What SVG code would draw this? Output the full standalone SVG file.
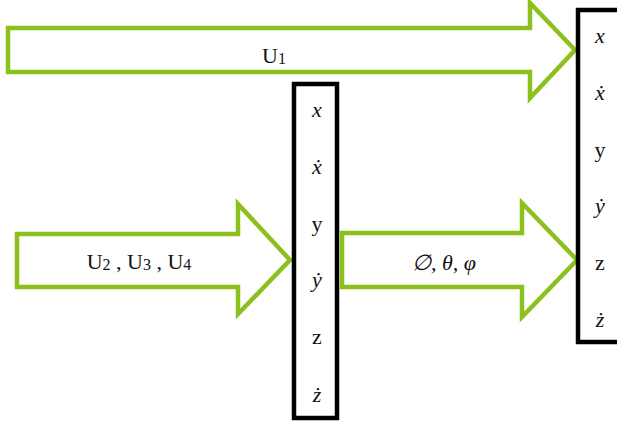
<svg xmlns="http://www.w3.org/2000/svg" width="617" height="426" viewBox="0 0 617 426">
<style>
.arrow{fill:#fff;stroke:#8cc11d;stroke-width:4.5;stroke-linejoin:miter}
.box{fill:#fff;stroke:#000;stroke-width:4.5}
text{font-family:"Liberation Serif","Times New Roman",serif;font-size:22px;fill:#111;text-anchor:middle}
.i{font-style:italic}
.sub{font-size:16px}
</style>
<g id="connectors">
<g id="arrow-u1">
<polygon class="arrow" points="8,28 530,28 530,3 575,50 530,98 530,72 8,72"/>
<text x="274" y="63">U<tspan class="sub" dy="1">1</tspan></text>
</g>
<g id="arrow-u234">
<polygon class="arrow" points="17,234 238,234 238,204 290,260 238,314 238,287 17,287"/>
<text x="139" y="269">U<tspan class="sub" dy="1">2</tspan><tspan dy="-1"> , U</tspan><tspan class="sub" dy="1">3</tspan><tspan dy="-1"> , U</tspan><tspan class="sub" dy="1">4</tspan></text>
</g>
<g id="arrow-angles">
<polygon class="arrow" points="342,233 522,233 522,203 577,260 522,317 522,287 342,287"/>
<text class="i" x="444" y="270">∅, θ, φ</text>
</g>
</g>
<g id="state-box-1">
<rect class="box" x="294" y="84" width="43" height="334"/>
<text class="i" x="317" y="117">x</text>
<text class="i" x="317" y="174">ẋ</text>
<text x="317" y="231">y</text>
<text class="i" x="317" y="287">ẏ</text>
<text x="317" y="344">z</text>
<text class="i" x="317" y="402">ż</text>
</g>
<g id="state-box-2">
<rect class="box" x="578" y="10" width="44" height="332"/>
<text class="i" x="600" y="43">x</text>
<text class="i" x="600" y="100">ẋ</text>
<text x="600" y="157">y</text>
<text class="i" x="600" y="213">ẏ</text>
<text x="600" y="270">z</text>
<text class="i" x="600" y="327">ż</text>
</g>
</svg>
